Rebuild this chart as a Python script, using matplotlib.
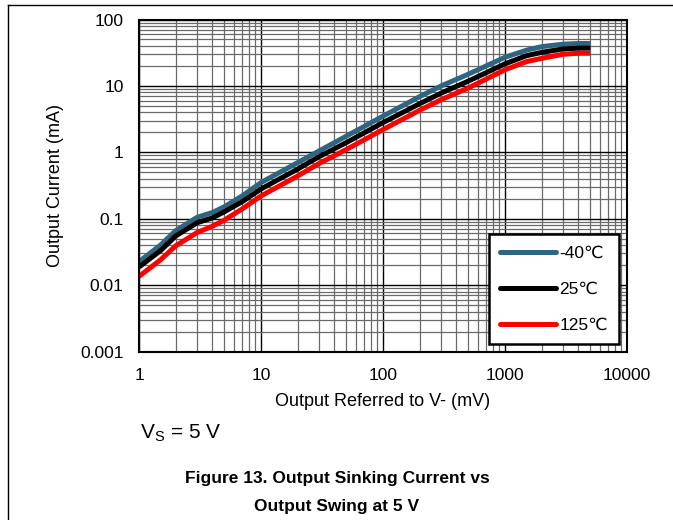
import numpy as np
import matplotlib
matplotlib.use("Agg")
import matplotlib.pyplot as plt
from matplotlib import ticker
from matplotlib.lines import Line2D

plt.rcParams['font.family'] = ['Liberation Sans', 'DejaVu Sans']
plt.rcParams['mathtext.fontset'] = 'custom'
plt.rcParams['mathtext.rm'] = 'Liberation Sans'
plt.rcParams['mathtext.it'] = 'Liberation Sans'

# Output swing (mV) vs sinking current (mA)
swing_mv = [1, 1.5, 2, 3, 4, 5, 7, 10, 20, 30, 50, 100, 200, 300, 500,
            1000, 1500, 2000, 3000, 4000, 5000]
i_m40 = [0.0225, 0.040, 0.066, 0.105, 0.124, 0.151, 0.22, 0.35, 0.70, 1.05, 1.75,
         3.5, 6.9, 10.0, 15.0, 27, 34.5, 39, 42.5, 43.5, 43.5]
i_25 = [0.0187, 0.033, 0.055, 0.087, 0.103, 0.127, 0.18, 0.28, 0.56, 0.86, 1.4,
        2.8, 5.4, 7.8, 11.8, 21.5, 28.5, 32, 36, 37, 37]
i_125 = [0.0135, 0.024, 0.039, 0.062, 0.077, 0.095, 0.14, 0.22, 0.44, 0.68, 1.1,
         2.2, 4.3, 6.2, 9.3, 17.5, 23.2, 26, 30, 31, 31]
labels = ['-40\u2103', '25\u2103', '125\u2103']
colors = ['#2F6581', 'black', '#FF0000']

W, H = 673, 520
fig = plt.figure(figsize=(W / 100, H / 100), dpi=100)
ax = fig.add_axes([139 / W, 1 - 351.5 / H, 488 / W, 332 / H])

for y, lab, c in zip([i_m40, i_25, i_125], labels, colors):
    ax.plot(swing_mv, y, color=c, lw=3.6, label=lab, solid_capstyle='butt')

ax.set_xscale('log')
ax.set_yscale('log')
ax.set_xlim(1, 10000)
ax.set_ylim(0.001, 100)

fmt = ticker.FuncFormatter(lambda v, p: '%g' % v)
ax.xaxis.set_major_formatter(fmt)
ax.yaxis.set_major_formatter(fmt)
ax.xaxis.set_minor_formatter(ticker.NullFormatter())
ax.yaxis.set_minor_formatter(ticker.NullFormatter())
ax.xaxis.set_minor_locator(ticker.LogLocator(base=10, subs=np.arange(2, 10), numticks=20))
ax.yaxis.set_minor_locator(ticker.LogLocator(base=10, subs=np.arange(2, 10), numticks=20))

ax.tick_params(which='both', length=0, labelsize=12.5)
ax.tick_params(axis='x', pad=12)
ax.tick_params(axis='y', pad=11)

ax.grid(which='major', color='black', lw=1.0)
ax.grid(which='minor', color='#6a6a6a', lw=0.9)
ax.set_axisbelow(True)
for s in ax.spines.values():
    s.set_linewidth(1.5)

ax.set_xlabel('Output Referred to V- (mV)', fontsize=13, labelpad=7)
ax.set_ylabel('Output Current (mA)', fontsize=13, labelpad=12)

leg = ax.legend(loc='lower right', bbox_to_anchor=(0.984, 0.0226), fontsize=12.5,
                fancybox=False, edgecolor='black', framealpha=1,
                handlelength=3.2, handletextpad=0.2, labelspacing=1.2,
                borderpad=0.65, borderaxespad=0)
leg.get_frame().set_linewidth(1.8)
for h in leg.get_lines():
    h.set_solid_capstyle('round')

fig.text(140 / W, 1 - 433 / H, r'$\mathregular{V_S}$ = 5 V', fontsize=15, va='center')
fig.text(337 / W, 1 - 479 / H, 'Figure 13. Output Sinking Current vs',
         fontsize=12.5, fontweight='bold', ha='center', va='center')
fig.text(337 / W, 1 - 506 / H, 'Output Swing at 5 V',
         fontsize=12.5, fontweight='bold', ha='center', va='center')

# page frame lines (top and left)
fig.add_artist(Line2D([8 / W, 1], [1 - 5 / H, 1 - 5 / H], transform=fig.transFigure,
                      color='black', lw=1))
fig.add_artist(Line2D([8 / W, 8 / W], [0, 1 - 5 / H], transform=fig.transFigure,
                      color='black', lw=1))

fig.savefig('out.png', dpi=100)
